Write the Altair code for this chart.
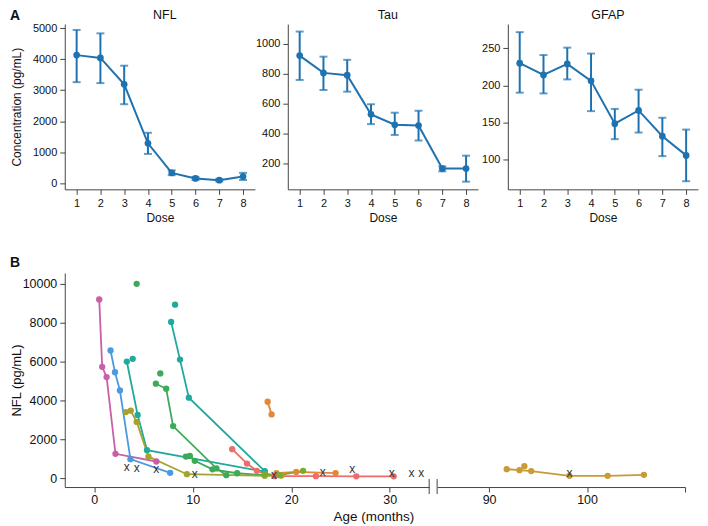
import altair as alt
import pandas as pd

FONT = "Liberation Sans"
BLUE = "#1F72B0"

# ---------------- Panel A data ----------------
doses = [1, 2, 3, 4, 5, 6, 7, 8]
nfl_mean = [4130, 4040, 3190, 1290, 340, 160, 105, 220]
nfl_lo = [3260, 3230, 2550, 950, 265, 110, 65, 110]
nfl_hi = [4940, 4830, 3790, 1630, 420, 210, 145, 340]
tau_mean = [920, 805, 790, 529, 460, 455, 168, 168]
tau_lo = [758, 691, 680, 464, 392, 355, 150, 81]
tau_hi = [1080, 913, 892, 596, 540, 553, 183, 254]
gfap_mean = [230, 214, 229, 206, 148, 166, 131, 105]
gfap_lo = [190, 189, 208, 165, 127, 136, 104, 70]
gfap_hi = [272, 241, 251, 243, 168, 194, 156, 140]

# ---------------- Panel B data ----------------
series_names = ["P", "B", "T1", "T1b", "T2", "T2b", "Gs", "Gs2", "G1", "G2",
                "O", "Or1", "Or2", "S", "LG", "Au", "Aub"]
series_colors = ["#C95FA8", "#4A9AE0", "#22A99C", "#22A99C", "#22A99C", "#22A99C",
                 "#3DAA5A", "#3DAA5A", "#3DAA5A", "#3DAA5A",
                 "#A6A22B", "#E38838", "#E38838", "#EE6C6C", "#7BAA2E",
                 "#C99A35", "#C99A35"]
series_ages = [
    [0.5, 0.8, 1.25, 2.15, 6.3],
    [1.65, 2.1, 2.6, 3.67, 7.7],
    [3.3, 4.4, 5.35, 17.3],
    [3.9],
    [7.8, 8.7, 9.6, 17.3],
    [8.2],
    [4.3],
    [6.7],
    [6.25, 7.3, 8.0, 12.4, 13.4],
    [9.3, 9.7, 10.2, 12.0, 14.5, 17.3],
    [3.2, 3.7, 4.3, 5.5, 9.4, 17.3, 19.0],
    [17.6, 18.0],
    [18.5, 20.5, 24.5],
    [14.0, 15.5, 16.5, 18.3, 22.5, 26.6, 30.4],
    [17.3, 18.8, 21.2],
    [91.8, 93.1, 94.3, 98.2, 102.1, 105.8],
    [93.6],
]
series_vals = [
    [9200, 5730, 5200, 1250, 855],
    [6570, 5450, 4510, 975, 270],
    [6000, 3250, 1440, 330],
    [6140],
    [8040, 6100, 4140, 360],
    [8930],
    [10000],
    [5390],
    [4860, 4600, 2680, 500, 150],
    [1110, 1140, 890, 450, 250, 150],
    [3400, 3470, 2890, 1110, 200, 120, 130],
    [3930, 3280],
    [250, 320, 260],
    [1490, 750, 375, 100, 100, 90, 90],
    [200, 150, 375],
    [460, 410, 360, 120, 120, 170],
    [615],
]
x_ages_left = [3.3, 4.3, 6.3, 10.2, 18.25, 23.2, 26.2, 30.2, 32.2, 33.2]
x_vals_left = [550, 500, 460, 200, 150, 320, 460, 250, 250, 250]
x_ages_right = [98.2]
x_vals_right = [240]

# ---------------- Panel A ----------------
WA, HA = 191, 166


def text_layer(txt, x, y, size, bold=False, align="center"):
    return alt.Chart(pd.DataFrame({"t": [txt]})).mark_text(
        text=txt, fontSize=size, fontWeight="bold" if bold else "normal", font=FONT,
        align=align, baseline="bottom", color="#111").encode(
        x=alt.value(x), y=alt.value(y))


def spacer(x):
    # invisible rule that reserves the same label room in every panel
    return alt.Chart(pd.DataFrame({"a": [0]})).mark_rule(strokeOpacity=0).encode(
        x=alt.value(x), y=alt.value(0), y2=alt.value(10))


def dose_panel(title, mean, lo, hi, domain, ticks, ytitle, label=None):
    df = pd.DataFrame({"dose": doses, "mean": mean, "lo": lo, "hi": hi})
    base = alt.Chart(df)
    xenc = alt.X("dose:Q", scale=alt.Scale(domain=[0.5, 8.5], nice=False, zero=False),
                 axis=alt.Axis(values=doses, title="Dose", grid=False))
    yscale = alt.Scale(domain=domain, nice=False, zero=False)
    if ytitle:
        yaxis = alt.Axis(values=ticks, title=ytitle, grid=False, format="d", titleX=-41)
    else:
        yaxis = alt.Axis(values=ticks, title=None, grid=False, format="d")

    def Y(f):
        return alt.Y(f + ":Q", scale=yscale, axis=yaxis, title=ytitle)

    rule = base.mark_rule(color=BLUE, strokeWidth=2).encode(
        x=xenc, y=Y("lo"), y2="hi:Q")
    tlo = base.mark_tick(color=BLUE, size=8, thickness=2, orient="horizontal").encode(
        x=xenc, y=Y("lo"))
    thi = base.mark_tick(color=BLUE, size=8, thickness=2, orient="horizontal").encode(
        x=xenc, y=Y("hi"))
    line = base.mark_line(color=BLUE, strokeWidth=2).encode(x=xenc, y=Y("mean"))
    pts = base.mark_circle(color=BLUE, size=45, opacity=1).encode(x=xenc, y=Y("mean"))
    layers = [rule, tlo, thi, line, pts, text_layer(title, WA / 2 + 5, -2, 12.5)]
    if label:
        layers.append(text_layer(label, -55, -1, 14, bold=True, align="left"))
    else:
        layers.append(spacer(-30))
    return alt.layer(*layers).properties(width=WA, height=HA)


nfl = dose_panel("NFL", nfl_mean, nfl_lo, nfl_hi, [-190, 5130],
                 [0, 1000, 2000, 3000, 4000, 5000], "Concentration (pg/mL)", "A")
tau = dose_panel("Tau", tau_mean, tau_lo, tau_hi, [30, 1130],
                 [200, 400, 600, 800, 1000], None)
gfap = dose_panel("GFAP", gfap_mean, gfap_lo, gfap_hi, [59, 283],
                  [100, 150, 200, 250], None)
rowA = alt.hconcat(nfl, tau, gfap, spacing=0)

# ---------------- Panel B ----------------
rows = []
for n, a_list, v_list in zip(series_names, series_ages, series_vals):
    for a, v in zip(a_list, v_list):
        rows.append({"pid": n, "age": a, "nfl": v})
dfB = pd.DataFrame(rows)
dfL = dfB[dfB["age"] < 50]
dfR = dfB[dfB["age"] >= 50]
dfXL = pd.DataFrame({"age": x_ages_left, "nfl": x_vals_left})
dfXR = pd.DataFrame({"age": x_ages_right, "nfl": x_vals_right})

WBL, WBR, HB = 366, 249, 215
yB = alt.Scale(domain=[-460, 10560], nice=False, zero=False)
cB = alt.Color("pid:N", scale=alt.Scale(domain=series_names, range=series_colors), legend=None)


def b_layers(df, dfx, xscale, xaxis, yaxis, width, side):
    xenc = alt.X("age:Q", scale=xscale, axis=xaxis)
    yenc = alt.Y("nfl:Q", scale=yB, axis=yaxis)
    lines = alt.Chart(df).mark_line(strokeWidth=1.8).encode(
        x=xenc, y=yenc, color=cB, order="age:Q")
    pts = alt.Chart(df).mark_circle(size=40, opacity=1).encode(x=xenc, y=yenc, color=cB)
    xm = alt.Chart(dfx).mark_text(text="x", fontSize=12, font=FONT, color="#333",
                                  baseline="middle").encode(x=xenc, y=yenc)
    bx = 0 if side == "right" else width
    brk = alt.Chart(pd.DataFrame({"a": [0]})).mark_rule(color="#444", strokeWidth=1).encode(
        x=alt.value(bx), y=alt.value(HB - 8), y2=alt.value(HB + 7))
    return [lines, pts, xm, brk]


left_layers = b_layers(
    dfL, dfXL,
    alt.Scale(domain=[-3, 34], nice=False, zero=False),
    alt.Axis(values=[0, 10, 20, 30], title="Age (months)", grid=False,
             titleX=310, titleAlign="center", titleFontSize=13.5,
             labelFontSize=12.5, labelPadding=2, titlePadding=3),
    alt.Axis(values=[0, 2000, 4000, 6000, 8000, 10000], title="NFL (pg/mL)",
             grid=False, titleX=-41, titleFontSize=13, format="d",
             labelFontSize=12.5),
    WBL, "left")
labB = text_layer("B", -55, -3, 14, bold=True, align="left")
bleft = alt.layer(*left_layers, labB).properties(width=WBL, height=HB)

right_layers = b_layers(
    dfR, dfXR,
    alt.Scale(domain=[84.7, 110], nice=False, zero=False),
    alt.Axis(values=[90, 100, 110], title=None, grid=False, labelFontSize=12.5,
             labelPadding=2,
             labelExpr="datum.value == 110 ? '' : datum.label"),
    None, WBR, "right")
bright = alt.layer(*right_layers).properties(width=WBR, height=HB)

rowB = alt.hconcat(bleft, bright, spacing=6)

chart = alt.vconcat(rowA, rowB, spacing=33).properties(
    padding={"left": 2, "top": 0, "right": 2, "bottom": 0}
).configure_view(stroke=None).configure_axis(
    grid=False, labelFont=FONT, titleFont=FONT, labelFontSize=11, titleFontSize=12,
    labelColor="#111", titleColor="#111", domainColor="#444", tickColor="#444",
    tickSize=5, labelPadding=3, titleFontWeight="normal"
)

chart.save("out.html", embed_options={"renderer": "svg", "actions": False})
